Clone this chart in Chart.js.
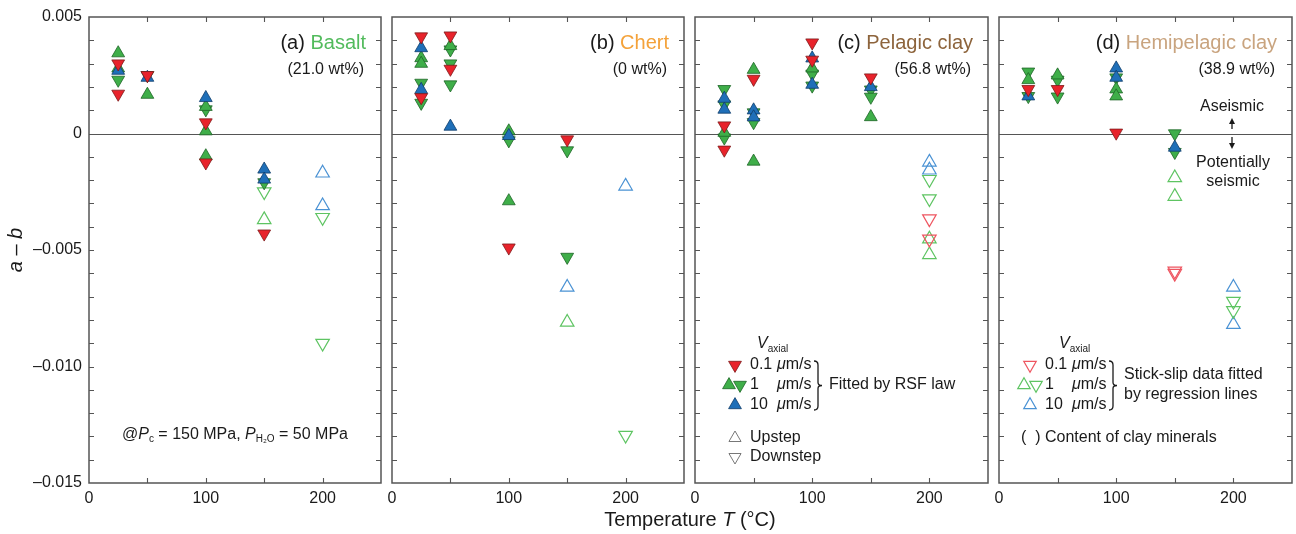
<!DOCTYPE html>
<html>
<head>
<meta charset="utf-8">
<script src="https://cdn.jsdelivr.net/npm/chart.js@4.4.1/dist/chart.umd.min.js"></script>
<style>
  body { margin: 0; background: #fff; }
  #wrap { position: relative; width: 1296px; height: 534px; overflow: hidden; }
  #wrap canvas { position: absolute; left: 0; top: 0; }
</style>
</head>
<body>
<div id="wrap">
  <canvas id="panelA" width="1320" height="534"></canvas>
  <canvas id="panelB" width="1320" height="534"></canvas>
  <canvas id="panelC" width="1320" height="534"></canvas>
  <canvas id="panelD" width="1320" height="534"></canvas>
</div>
<script>
// a - b values, each point is [temperature (°C), a - b]
// RSF fits: slow = 0.1 um/s (downstep), mid = 1 um/s (up / down), fast = 10 um/s (upstep)
// SS = stick-slip data fitted by regression lines (open symbols)

// (a) Basalt
const basaltSlow = [[25, 0.0030], [25, 0.0017], [50, 0.0025], [100, 0.00047], [100, -0.00125], [150, -0.0043]];
const basaltMidUp = [[25, 0.00345], [25, 0.0028], [50, 0.00167], [100, 0.00115], [100, 0.0001], [100, -0.00097]];
const basaltMidDown = [[25, 0.0023], [50, 0.0025], [100, 0.00103], [150, -0.0021]];
const basaltFast = [[25, 0.0027], [50, 0.0024], [100, 0.00153], [150, -0.00154], [150, -0.00197]];
const basaltSsMidUp = [[150, -0.0037]];
const basaltSsMidDown = [[150, -0.0025], [200, -0.0036], [200, -0.0090]];
const basaltSsFast = [[200, -0.0017], [200, -0.0031]];

// (b) Chert
const chertSlow = [[25, 0.00416], [25, 0.00155], [50, 0.0042], [50, 0.00277], [100, -0.0049], [150, -0.00026]];
const chertMidUp = [[25, 0.00324], [25, 0.0030], [50, 0.00376], [100, 0.0001], [100, -0.0029]];
const chertMidDown = [[25, 0.00217], [25, 0.00131], [50, 0.0036], [50, 0.0030], [50, 0.0021], [100, -0.0003], [150, -0.00073], [150, -0.0053]];
const chertFast = [[25, 0.00367], [25, 0.00188], [50, 0.0003], [100, -0.0001]];
const chertSsMidUp = [[150, -0.0081]];
const chertSsMidDown = [[200, -0.01295]];
const chertSsFast = [[150, -0.0066], [200, -0.00226]];

// (c) Pelagic clay
const pelagicSlow = [[25, 0.00034], [25, -0.0007], [50, 0.00234], [100, 0.0039], [100, 0.00316], [150, 0.0024]];
const pelagicMidUp = [[25, 0.00004], [50, 0.00274], [50, -0.0012], [100, 0.0028], [150, 0.00071]];
const pelagicMidDown = [[25, 0.0019], [25, 0.00124], [25, -0.00018], [50, 0.0009], [50, 0.00048], [100, 0.00256], [100, 0.00205], [150, 0.00188], [150, 0.00157]];
const pelagicFast = [[25, 0.0015], [25, 0.00103], [50, 0.0010], [50, 0.0007], [100, 0.00323], [100, 0.0021], [150, 0.0020]];
const pelagicSsSlow = [[200, -0.00366], [200, -0.00453]];
const pelagicSsMidUp = [[200, -0.00453], [200, -0.0052]];
const pelagicSsMidDown = [[200, -0.00197], [200, -0.0028]];
const pelagicSsFast = [[200, -0.00123], [200, -0.00157]];

// (d) Hemipelagic clay
const hemiSlow = [[25, 0.0019], [50, 0.0019], [100, 0.00003]];
const hemiMidUp = [[25, 0.0023], [50, 0.0025], [100, 0.0019], [100, 0.0016]];
const hemiMidDown = [[25, 0.00265], [25, 0.0016], [50, 0.0023], [50, 0.00158], [100, 0.0024], [150, 0.0], [150, -0.0008]];
const hemiFast = [[25, 0.0016], [100, 0.0028], [100, 0.0024], [150, -0.0006]];
const hemiSsSlow = [[150, -0.0059], [150, -0.0060]];
const hemiSsMidUp = [[150, -0.0019], [150, -0.0027]];
const hemiSsMidDown = [[200, -0.0072], [200, -0.0076]];
const hemiSsFast = [[200, -0.0066], [200, -0.0082]];

const panelNames = ["Basalt", "Chert", "Pelagic clay", "Hemipelagic clay"];
const panelLetters = ["(a)", "(b)", "(c)", "(d)"];
const clayContent = ["(21.0 wt%)", "(0 wt%)", "(56.8 wt%)", "(38.9 wt%)"];
const xTickLabels = [0, 100, 200];
const yTickLabels = [0.005, 0, -0.005, -0.010, -0.015];

const FONT = '"Liberation Sans", Arial, Helvetica, sans-serif';
const INK = "#1a1a1a";
const AXIS = "#555";
const nameColors = ["#52bb5c", "#f4a23a", "#8d643c", "#c9a47f"];

const RED = { fill: "#e8232b", edge: "#7d1a1a" };
const GREEN = { fill: "#3fae49", edge: "#1d6426" };
const BLUE = { fill: "#1f6fb8", edge: "#103d6b" };
const OPEN_RED = "#ee5560";
const OPEN_GREEN = "#5ec462";
const OPEN_BLUE = "#4a92d4";
const FILLED_R = 7.4;
const OPEN_R = 7.8;

// panel frames on the page (canvases are a bit wider than the page so
// the last panel keeps its right edge)
const CANVAS_W = 1320;
const panelLeft = [89, 392, 695, 999];
const panelRight = [381, 684, 988, 1292];
const plotTop = 17;
const plotBottom = 483;

function filled(points, c, down) {
  return {
    data: points.map(([x, y]) => ({ x, y })),
    pointStyle: "triangle",
    rotation: down ? 180 : 0,
    pointRadius: FILLED_R,
    backgroundColor: c.fill,
    borderColor: c.edge,
    borderWidth: 0.8,
  };
}

function hollow(points, color, down) {
  return {
    data: points.map(([x, y]) => ({ x, y })),
    pointStyle: "triangle",
    rotation: down ? 180 : 0,
    pointRadius: OPEN_R,
    backgroundColor: "rgba(0,0,0,0)",
    borderColor: color,
    borderWidth: 1.2,
  };
}

function fontOf(p, size) {
  return (p.it ? "italic " : "") + (p.size || size) + "px " + FONT;
}

// draw a line of mixed-style text runs
function runs(ctx, parts, x, y, align, size) {
  let w = 0;
  parts.forEach((p) => {
    ctx.font = fontOf(p, size);
    w += ctx.measureText(p.t).width;
  });
  let cx = align === "right" ? x - w : align === "center" ? x - w / 2 : x;
  ctx.textAlign = "left";
  ctx.textBaseline = "middle";
  parts.forEach((p) => {
    ctx.font = fontOf(p, size);
    ctx.fillStyle = p.color || INK;
    ctx.fillText(p.t, cx, y + (p.dy || 0));
    cx += ctx.measureText(p.t).width;
  });
}

function tri(ctx, x, y, r, down, fill, stroke, lw) {
  const rad = down ? Math.PI : 0;
  ctx.beginPath();
  for (let k = 0; k < 3; k++) {
    const t = rad + (k * 2 * Math.PI) / 3;
    const px = x + Math.sin(t) * r;
    const py = y - Math.cos(t) * r;
    if (k === 0) ctx.moveTo(px, py);
    else ctx.lineTo(px, py);
  }
  ctx.closePath();
  if (fill) {
    ctx.fillStyle = fill;
    ctx.fill();
  }
  ctx.lineWidth = lw;
  ctx.strokeStyle = stroke;
  ctx.stroke();
}

function brace(ctx, x, top, bottom) {
  const mid = (top + bottom) / 2;
  ctx.beginPath();
  ctx.moveTo(x - 2, top);
  ctx.quadraticCurveTo(x + 2, top, x + 2, top + 4);
  ctx.lineTo(x + 2, mid - 3);
  ctx.quadraticCurveTo(x + 2, mid, x + 6, mid);
  ctx.quadraticCurveTo(x + 2, mid, x + 2, mid + 3);
  ctx.lineTo(x + 2, bottom - 4);
  ctx.quadraticCurveTo(x + 2, bottom, x - 2, bottom);
  ctx.lineWidth = 1.3;
  ctx.strokeStyle = INK;
  ctx.stroke();
}

function arrow(ctx, x, from, to) {
  const dir = Math.sign(to - from);
  ctx.beginPath();
  ctx.moveTo(x, from);
  ctx.lineTo(x, to - dir * 4);
  ctx.lineWidth = 1.3;
  ctx.strokeStyle = INK;
  ctx.stroke();
  ctx.beginPath();
  ctx.moveTo(x, to);
  ctx.lineTo(x - 3, to - dir * 6);
  ctx.lineTo(x + 3, to - dir * 6);
  ctx.closePath();
  ctx.fillStyle = INK;
  ctx.fill();
}

// frame, inward tick marks, zero line and panel labels
function decor(idx, extra) {
  return {
    id: "decor" + idx,
    beforeDatasetsDraw(chart) {
      const { ctx, chartArea: a, scales } = chart;
      const x = scales.x, y = scales.y;
      ctx.save();
      ctx.strokeStyle = AXIS;
      ctx.lineWidth = 1.1;
      ctx.beginPath();
      for (let v = 50; v < 250; v += 50) {
        const px = Math.round(x.getPixelForValue(v)) + 0.5;
        ctx.moveTo(px, a.bottom);
        ctx.lineTo(px, a.bottom - 5);
        ctx.moveTo(px, a.top);
        ctx.lineTo(px, a.top + 5);
      }
      for (let k = -14; k <= 4; k++) {
        const py = Math.round(y.getPixelForValue(k / 1000)) + 0.5;
        ctx.moveTo(a.left, py);
        ctx.lineTo(a.left + 5, py);
        ctx.moveTo(a.right, py);
        ctx.lineTo(a.right - 5, py);
      }
      ctx.stroke();
      const zy = Math.round(y.getPixelForValue(0)) + 0.5;
      ctx.beginPath();
      ctx.moveTo(a.left, zy);
      ctx.lineTo(a.right, zy);
      ctx.lineWidth = 1.2;
      ctx.stroke();
      ctx.lineWidth = 1.5;
      ctx.strokeRect(a.left, a.top, a.right - a.left, a.bottom - a.top);
      ctx.restore();
    },
    afterDatasetsDraw(chart) {
      const { ctx, chartArea: a } = chart;
      ctx.save();
      runs(ctx, [{ t: panelLetters[idx] + " " }, { t: panelNames[idx], color: nameColors[idx] }],
        a.right - 15, a.top + 26, "right", 20);
      runs(ctx, [{ t: clayContent[idx] }], a.right - 17, a.top + 53, "right", 16);
      if (extra) extra(ctx, a);
      ctx.restore();
    },
  };
}

function extraA(ctx, a) {
  runs(ctx, [
    { t: "@" }, { t: "P", it: true }, { t: "c", size: 10, dy: 4 },
    { t: " = 150 MPa, " }, { t: "P", it: true }, { t: "H\u2082O", size: 10, dy: 4 },
    { t: " = 50 MPa" },
  ], (a.left + a.right) / 2, 435, "center", 16);
  ctx.save();
  ctx.translate(a.left - 73, (a.top + a.bottom) / 2);
  ctx.rotate(-Math.PI / 2);
  runs(ctx, [{ t: "a", it: true }, { t: " \u2013 " }, { t: "b", it: true }], 0, 0, "center", 20);
  ctx.restore();
}

function extraB(ctx, a) {
  runs(ctx, [{ t: "Temperature " }, { t: "T", it: true }, { t: " (\u00b0C)" }],
    a.right + 6, a.bottom + 37, "center", 20);
}

function speedRows(ctx, x0, items) {
  const rowY = [365, 385, 405];
  const speeds = ["0.1", "1", "10"];
  runs(ctx, [{ t: "V", it: true }, { t: "axial", size: 10, dy: 5 }], x0 + items.vx, 344, "left", 16);
  items.marks.forEach((draw, i) => draw(rowY[i]));
  speeds.forEach((s, i) => {
    runs(ctx, [{ t: s }], x0 + items.tx, rowY[i], "left", 16);
    runs(ctx, [{ t: "\u03bc", it: true }, { t: "m/s" }], x0 + items.tx + 27, rowY[i], "left", 16);
  });
  brace(ctx, x0 + items.bx, 361, 410);
}

function extraC(ctx, a) {
  const x0 = a.left;
  speedRows(ctx, x0, {
    vx: 62, tx: 55, bx: 121,
    marks: [
      (y) => tri(ctx, x0 + 40, y, FILLED_R, true, RED.fill, RED.edge, 0.8),
      (y) => {
        tri(ctx, x0 + 34, y, FILLED_R, false, GREEN.fill, GREEN.edge, 0.8);
        tri(ctx, x0 + 45, y, FILLED_R, true, GREEN.fill, GREEN.edge, 0.8);
      },
      (y) => tri(ctx, x0 + 40, y, FILLED_R, false, BLUE.fill, BLUE.edge, 0.8),
    ],
  });
  runs(ctx, [{ t: "Fitted by RSF law" }], x0 + 134, 385, "left", 16);
  tri(ctx, x0 + 40, 438, 7, false, null, "#777", 1);
  runs(ctx, [{ t: "Upstep" }], x0 + 55, 438, "left", 16);
  tri(ctx, x0 + 40, 457, 7, true, null, "#777", 1);
  runs(ctx, [{ t: "Downstep" }], x0 + 55, 457, "left", 16);
}

function extraD(ctx, a) {
  const x0 = a.left;
  speedRows(ctx, x0, {
    vx: 60, tx: 46, bx: 112,
    marks: [
      (y) => tri(ctx, x0 + 31, y, 7.2, true, null, OPEN_RED, 1.2),
      (y) => {
        tri(ctx, x0 + 25, y, 7.2, false, null, OPEN_GREEN, 1.2);
        tri(ctx, x0 + 37, y, 7.2, true, null, OPEN_GREEN, 1.2);
      },
      (y) => tri(ctx, x0 + 31, y, 7.2, false, null, OPEN_BLUE, 1.2),
    ],
  });
  runs(ctx, [{ t: "Stick-slip data fitted" }], x0 + 125, 375, "left", 16);
  runs(ctx, [{ t: "by regression lines" }], x0 + 125, 395, "left", 16);
  runs(ctx, [{ t: "(  )" }], x0 + 22, 438, "left", 16);
  runs(ctx, [{ t: "Content of clay minerals" }], x0 + 46, 438, "left", 16);
  const cx = a.right - 60;
  runs(ctx, [{ t: "Aseismic" }], cx, 107, "center", 16);
  arrow(ctx, cx, 129, 118);
  arrow(ctx, cx, 137, 149);
  runs(ctx, [{ t: "Potentially" }], cx + 1, 163, "center", 16);
  runs(ctx, [{ t: "seismic" }], cx + 1, 182, "center", 16);
}

function makePanel(canvasId, idx, datasets, extra) {
  const first = idx === 0;
  new Chart(document.getElementById(canvasId), {
    type: "scatter",
    data: { datasets },
    options: {
      responsive: false,
      animation: false,
      devicePixelRatio: 1,
      layout: {
        padding: {
          left: first ? 0 : panelLeft[idx],
          right: CANVAS_W - panelRight[idx],
          top: plotTop,
          bottom: 534 - plotBottom - 30,
        },
      },
      plugins: { legend: { display: false }, tooltip: { enabled: false } },
      scales: {
        x: {
          type: "linear",
          min: 0,
          max: 250,
          grid: { display: false, drawTicks: false },
          border: { display: false },
          ticks: {
            stepSize: 100,
            autoSkip: false,
            maxRotation: 0,
            padding: 6,
            color: INK,
            font: { family: FONT, size: 16 },
            callback: (v) => (xTickLabels.includes(v) ? String(v) : ""),
          },
          afterFit: (s) => { s.height = 30; },
        },
        y: {
          type: "linear",
          min: -0.015,
          max: 0.005,
          grid: { display: false, drawTicks: false },
          border: { display: false },
          ticks: {
            display: first,
            stepSize: 0.005,
            padding: 7,
            color: INK,
            font: { family: FONT, size: 16 },
            callback: (v) => {
              const r = Math.round(v * 1000) / 1000;
              if (!yTickLabels.some((t) => Math.abs(t - r) < 1e-9)) return "";
              if (r === 0) return "0";
              return r.toFixed(3).replace("-", "\u2013");
            },
          },
          afterFit: (s) => { s.width = first ? panelLeft[0] : 0; },
        },
      },
    },
    plugins: [decor(idx, extra)],
  });
}

makePanel("panelA", 0, [
  filled(basaltSlow, RED, true),
  filled(basaltFast, BLUE, false),
  filled(basaltMidUp, GREEN, false),
  filled(basaltMidDown, GREEN, true),
  hollow(basaltSsMidUp, OPEN_GREEN, false),
  hollow(basaltSsMidDown, OPEN_GREEN, true),
  hollow(basaltSsFast, OPEN_BLUE, false),
], extraA);

makePanel("panelB", 1, [
  filled(chertSlow, RED, true),
  filled(chertFast, BLUE, false),
  filled(chertMidUp, GREEN, false),
  filled(chertMidDown, GREEN, true),
  hollow(chertSsMidUp, OPEN_GREEN, false),
  hollow(chertSsMidDown, OPEN_GREEN, true),
  hollow(chertSsFast, OPEN_BLUE, false),
], extraB);

makePanel("panelC", 2, [
  filled(pelagicSlow, RED, true),
  filled(pelagicFast, BLUE, false),
  filled(pelagicMidUp, GREEN, false),
  filled(pelagicMidDown, GREEN, true),
  hollow(pelagicSsSlow, OPEN_RED, true),
  hollow(pelagicSsMidUp, OPEN_GREEN, false),
  hollow(pelagicSsMidDown, OPEN_GREEN, true),
  hollow(pelagicSsFast, OPEN_BLUE, false),
], extraC);

makePanel("panelD", 3, [
  filled(hemiSlow, RED, true),
  filled(hemiFast, BLUE, false),
  filled(hemiMidUp, GREEN, false),
  filled(hemiMidDown, GREEN, true),
  hollow(hemiSsSlow, OPEN_RED, true),
  hollow(hemiSsMidUp, OPEN_GREEN, false),
  hollow(hemiSsMidDown, OPEN_GREEN, true),
  hollow(hemiSsFast, OPEN_BLUE, false),
], extraD);
</script>
</body>
</html>
